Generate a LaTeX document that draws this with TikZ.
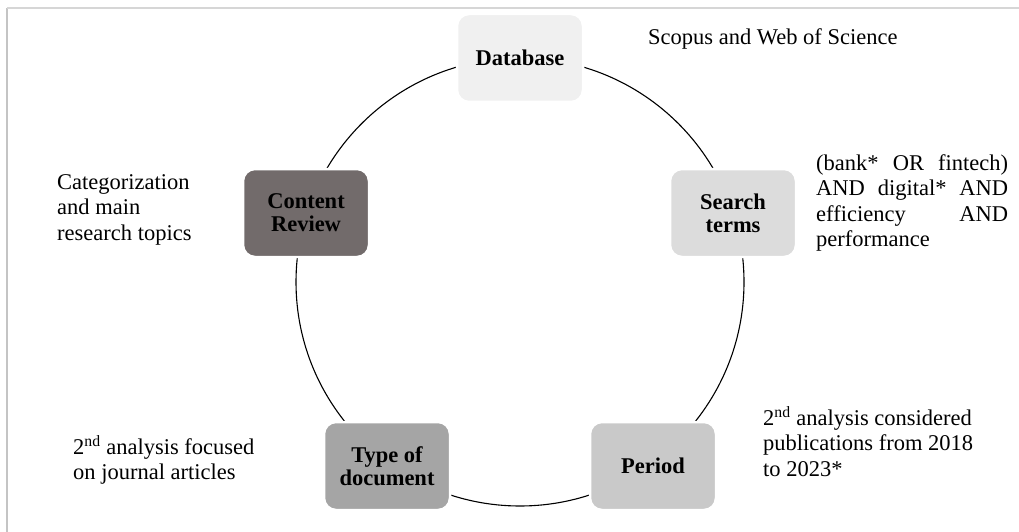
\documentclass[tikz,border=0pt]{standalone}
\usepackage{fontspec}
\setmainfont{Liberation Serif}
\definecolor{cdb}{HTML}{F0F0F0}
\definecolor{cst}{HTML}{DCDCDC}
\definecolor{cpe}{HTML}{C9C9C9}
\definecolor{cty}{HTML}{A5A5A5}
\definecolor{ccr}{HTML}{726B6B}
\definecolor{frameleft}{HTML}{C4C4C4}
\definecolor{frametop}{HTML}{D6D6D6}
\begin{document}
\begin{tikzpicture}[x=1pt,y=-1pt,
  box/.style={rounded corners=12pt, minimum width=126pt, minimum height=88pt,
    draw=white, line width=2.5pt, align=center, inner sep=0pt,
    font=\fontsize{22.5}{23}\selectfont\bfseries},
  note/.style={anchor=base west, inner sep=0pt,
    font=\fontsize{22.5}{25.5}\selectfont}]
\useasboundingbox (0,0) rectangle (1019,532);
\draw[line width=1.8pt, frameleft] (7,532) -- (7,8);
\draw[line width=1.4pt, frametop] (7,8) -- (1019,8);
\coordinate (c) at (520,282);
\draw[line width=1.1pt] (c) circle[radius=224];
\node[box, fill=cdb] (db) at (520,58) {Database};
\node[box, fill=cst] (st) at (733,213) {Search\\terms};
\node[box, fill=cpe] (pe) at (653,466) {Period};
\node[box, fill=cty] (ty) at (387,466) {Type of\\document};
\node[box, fill=ccr] (cr) at (306,213) {Content\\Review};
\node[note] (ndb) at (648,45) {Scopus and Web of Science};
\node[note] (nst) at (816,170) {\parbox[t]{200pt}{%
  \hbox to 192pt{(bank*\hfill OR\hfill fintech)}%
  \hbox to 192pt{AND\hfill digital*\hfill AND}%
  \hbox to 192pt{efficiency\hfill AND}%
  \hbox{performance}}};
\node[note] (npe) at (763,425) {\parbox[t]{260pt}{2\textsuperscript{nd} analysis considered\\publications from 2018\\to 2023*}};
\node[note] (nty) at (73,454) {\parbox[t]{260pt}{2\textsuperscript{nd} analysis focused\\on journal articles}};
\node[note] (ncr) at (57,189) {\parbox[t]{200pt}{Categorization\\and main\\research topics}};
\end{tikzpicture}
\end{document}
